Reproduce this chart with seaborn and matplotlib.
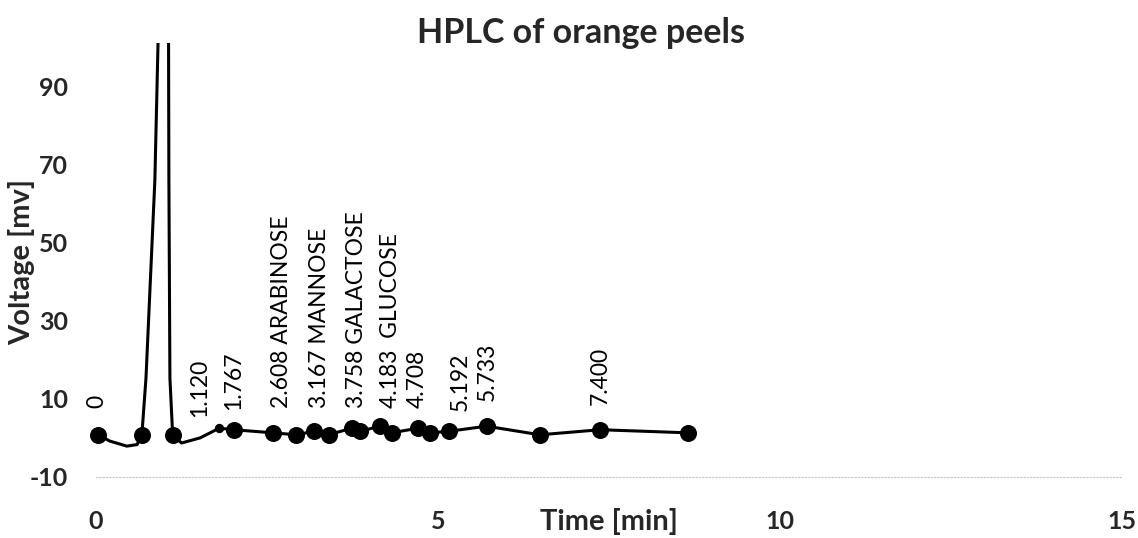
import numpy as np
import pandas as pd
import seaborn as sns
import matplotlib
matplotlib.use("Agg")
import matplotlib.pyplot as plt

# trace (time in min, voltage in mV)
trace_time = [0.03, 0.20, 0.45, 0.60, 0.67, 0.73, 0.86, 0.906, 0.99, 1.06, 1.065, 1.08, 1.12,
              1.25, 1.52, 1.69, 1.80, 2.01, 2.59, 2.93, 3.18, 3.40, 3.74, 3.86, 4.15, 4.32,
              4.71, 4.88, 5.16, 5.71, 6.49, 7.37, 8.66]
trace_mv = [0.8, -0.8, -2.1, -1.7, 0.8, 15.3, 66, 101, 160, 101, 66, 15.3, 0.8,
            -1.3, 0.0, 1.5, 2.5, 2.1, 1.3, 0.8, 1.7, 0.8, 2.5, 1.7, 3.0, 1.3,
            2.5, 1.3, 1.7, 3.0, 0.8, 2.1, 1.3]

# detected points (big dots)
point_time = [0.03, 0.67, 1.12, 2.01, 2.59, 2.93, 3.18, 3.40, 3.74, 3.86, 4.15, 4.32,
              4.71, 4.88, 5.16, 5.71, 6.49, 7.37, 8.66]
point_mv = [0.8, 0.8, 0.8, 2.1, 1.3, 0.8, 1.7, 0.8, 2.5, 1.7, 3.0, 1.3,
            2.5, 1.3, 1.7, 3.0, 0.8, 2.1, 1.3]
small_time = [1.80]
small_mv = [2.5]

# peak labels
peak_labels = ["0", "1.120", "1.767", "2.608 ARABINOSE", "3.167 MANNOSE", "3.758 GALACTOSE",
               "4.183  GLUCOSE", "4.708", "5.192", "5.733", "7.400"]
label_time = [0.01, 1.52, 2.01, 2.71, 3.27, 3.81, 4.30, 4.69, 5.32, 5.72, 7.37]
label_mv = [7.6, 5.3, 7.1, 7.6, 7.6, 7.6, 7.6, 7.6, 6.9, 9.4, 8.4]

sns.set_theme(style="white")
plt.rcParams['font.family'] = ['Lato', 'DejaVu Sans']
plt.rcParams['axes.unicode_minus'] = False

fig = plt.figure(figsize=(11.38, 5.38), dpi=100)
ax = fig.add_axes([0.0844, 0.1134, 0.9016, 0.8061])

trace = pd.DataFrame({"t": trace_time, "mv": trace_mv})
sns.lineplot(data=trace, x="t", y="mv", sort=False, color="black", linewidth=2.2, ax=ax)
sns.scatterplot(x=point_time, y=point_mv, color="black", s=150, edgecolor="black",
                linewidth=0, ax=ax, clip_on=False, zorder=3)
sns.scatterplot(x=small_time, y=small_mv, color="black", s=45, linewidth=0, ax=ax, zorder=3)

for txt, t, v in zip(peak_labels, label_time, label_mv):
    ax.text(t, v, txt, rotation=90, ha="center", va="bottom", fontsize=16.5, color="black")

ax.set_xlim(0, 15)
ax.set_ylim(-10, 101)
ax.set_xticks([0, 5, 10, 15])
ax.set_yticks([-10, 10, 30, 50, 70, 90])
ax.tick_params(axis="both", length=0, labelsize=18)
ax.tick_params(axis="x", pad=24)
ax.tick_params(axis="y", pad=20)
for lab in ax.get_xticklabels() + ax.get_yticklabels():
    lab.set_fontweight("bold")

for s in ["top", "right", "left"]:
    ax.spines[s].set_visible(False)
ax.spines["bottom"].set_linestyle(":")
ax.spines["bottom"].set_color("#cccccc")
ax.spines["bottom"].set_linewidth(0.9)

ax.set_xlabel("Time [min]", fontsize=21, fontweight="bold")
ax.xaxis.set_label_coords(0.5, -0.1015)
ax.xaxis.label.set_va("center")
ax.set_ylabel("Voltage [mv]", fontsize=21, fontweight="bold")
ax.yaxis.set_label_coords(-0.0725, 0.495)
ax.yaxis.label.set_va("center")

ax.set_title("HPLC of orange peels", fontsize=24.5, fontweight="bold", x=0.473, pad=0)

fig.savefig("out.png", dpi=100, facecolor="white")
